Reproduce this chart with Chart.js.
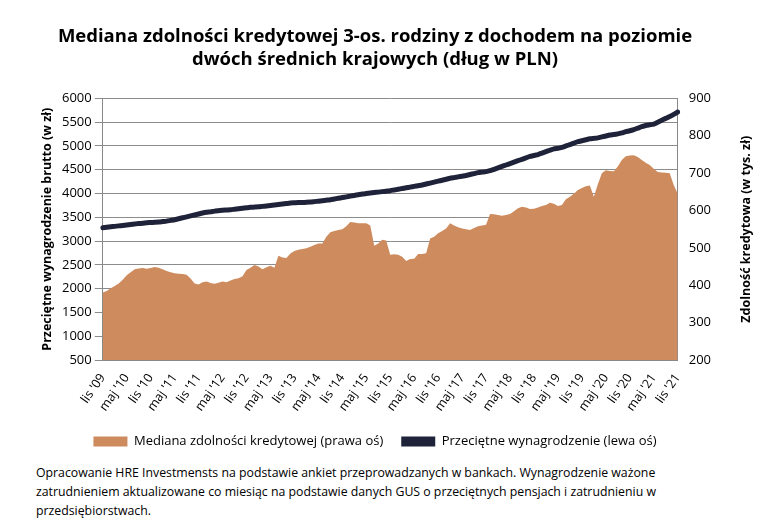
<!DOCTYPE html>
<html><head><meta charset="utf-8">
<script src="https://cdn.jsdelivr.net/npm/chart.js@4/dist/chart.umd.min.js"></script>
<style>
body{margin:0;background:#fff;font-family:"Open Sans",sans-serif;}
#wrap{position:absolute;left:0;top:0;width:762px;height:458px;}
#note{position:absolute;left:36px;top:463px;width:700px;font-size:12.3px;line-height:19px;color:#000;font-family:"Open Sans",sans-serif;}
</style></head><body>
<div id="wrap"><canvas id="c"></canvas></div>
<div id="note">Opracowanie HRE Investmensts na podstawie ankiet przeprowadzanych w bankach. Wynagrodzenie ważone zatrudnieniem aktualizowane co miesiąc na podstawie danych GUS o przeciętnych pensjach i zatrudnieniu w przedsiębiorstwach.</div>
<script>
const months=["sty","lut","mar","kwi","maj","cze","lip","sie","wrz","paź","lis","gru"];
const labels=[];
for(let i=0;i<145;i++){const m=(10+i)%12;const y=2009+Math.floor((10+i)/12);labels.push(months[m]+" '"+String(y).slice(2));}
const capacity=[381,385,392,398,405,415,427,435,443,445,446,444,
446,449,447,443,438,435,432,431,430,428,418,405,
402,408,410,406,404,407,410,408,413,417,419,424,
441,447,454,450,443,448,452,447,479,474,473,485,
492,495,497,499,503,508,512,512,530,542,545,548,
550,558,569,568,566,566,566,560,506,512,522,520,
482,483,482,476,465,470,471,484,484,486,525,530,
539,545,552,566,560,555,552,550,548,553,558,560,
562,591,590,588,586,588,591,598,606,610,608,604,
605,608,612,615,621,618,612,615,630,637,645,655,
660,665,667,637,670,700,708,706,705,718,735,745,
747,748,743,735,728,722,712,703,702,701,700,668,645];
const salary=[3280,3290,3300,3310,3320,3330,3340,3350,3360,3370,3375,3385,
3390,3395,3400,3410,3420,3435,3450,3470,3490,3510,3530,3550,
3570,3590,3605,3615,3630,3640,3650,3655,3660,3670,3680,3690,
3700,3710,3715,3720,3730,3740,3750,3760,3770,3780,3790,3800,
3805,3810,3812,3815,3820,3830,3840,3850,3860,3870,3885,3900,
3915,3930,3945,3960,3975,3990,4000,4010,4020,4030,4040,4050,
4060,4075,4090,4105,4120,4135,4150,4165,4180,4200,4220,4240,
4260,4280,4300,4320,4335,4350,4365,4380,4400,4420,4440,4450,
4460,4480,4510,4540,4570,4600,4630,4660,4690,4720,4750,4780,
4800,4820,4850,4880,4910,4940,4950,4970,5000,5030,5060,5090,
5110,5130,5150,5160,5170,5190,5210,5230,5240,5255,5275,5300,
5320,5345,5375,5405,5430,5445,5460,5500,5540,5580,5620,5665,5714];
const font="'Open Sans', sans-serif";
const rightTitle={id:'rt',afterDraw(ch){const c=ch.ctx,a=ch.chartArea;c.save();c.translate(746,(a.top+a.bottom)/2);c.rotate(-Math.PI/2);c.font="bold 12.5px "+font;c.fillStyle='#000';c.textAlign='center';c.textBaseline='middle';c.fillText('Zdolność kredytowa (w tys. zł)',0,0);c.restore();}};
new Chart(document.getElementById('c'),{
 type:'line',
 data:{labels,datasets:[
  {label:'Mediana zdolności kredytowej (prawa oś)',data:capacity,yAxisID:'y1',fill:'origin',backgroundColor:'#CE8C5E',borderColor:'#CE8C5E',borderWidth:0,pointRadius:0,tension:0,order:2},
  {label:'Przeciętne wynagrodzenie (lewa oś)',data:salary,yAxisID:'y',fill:false,borderColor:'#1F2339',backgroundColor:'#1F2339',borderWidth:5,pointRadius:0,tension:0.2,order:1,borderCapStyle:'round'}
 ]},
 options:{responsive:true,maintainAspectRatio:false,animation:false,
  layout:{padding:{left:36,right:48,top:8,bottom:0}},
  plugins:{
   title:{display:true,text:['Mediana zdolności kredytowej 3-os. rodziny z dochodem na poziomie','dwóch średnich krajowych (dług w PLN)'],font:{family:font,size:18.5,weight:'bold'},color:'#000',padding:{top:18,bottom:28},lineHeight:1.35},
   legend:{position:'bottom',labels:{usePointStyle:false,font:{family:font,size:13},color:'#000',boxWidth:34,boxHeight:10,padding:18,
     generateLabels:(ch)=>ch.data.datasets.map((d,i)=>({text:d.label,fillStyle:d.backgroundColor,strokeStyle:d.borderColor,lineWidth:0,datasetIndex:i,hidden:false}))}},
   tooltip:{enabled:false}
  },
  scales:{
   x:{grid:{display:false,drawTicks:true},border:{color:'#888'},
      ticks:{autoSkip:false,maxRotation:55,minRotation:55,font:{family:font,size:12.5},color:'#000',
      callback:function(v,i){return i%6===0?labels[i]:null;}}},
   y:{position:'left',min:500,max:6000,ticks:{stepSize:500,font:{family:font,size:13},color:'#000',callback:v=>String(v)},
      grid:{color:'#8c8c8c'},border:{color:'#888'},
      title:{display:true,text:'Przeciętne wynagrodzenie brutto (w zł)',font:{family:font,size:12.5,weight:'bold'},color:'#000'}},
   y1:{position:'right',min:200,max:900,ticks:{stepSize:100,font:{family:font,size:13},color:'#000'},
      grid:{display:false},border:{color:'#888'}}
  }},
 plugins:[rightTitle]
});
</script></body></html>
